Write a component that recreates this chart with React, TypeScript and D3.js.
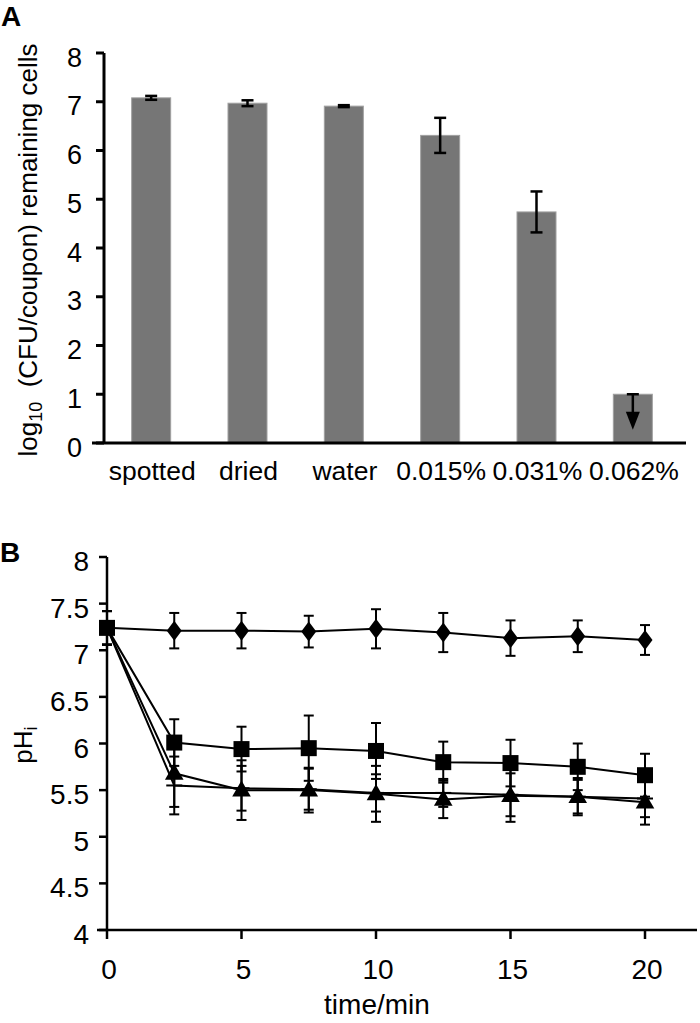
import React from 'react';
import * as d3 from 'd3';

// ---------- Panel A data ----------
const categories = ['spotted', 'dried', 'water', '0.015%', '0.031%', '0.062%'];
const barValues = [7.08, 6.97, 6.91, 6.31, 4.74, 1.0];
const barErrors = [0.04, 0.06, 0.02, 0.36, 0.42, 0];
const arrowTip = 0.27; // below-detection arrow for last bar
const yTicksA = [0, 1, 2, 3, 4, 5, 6, 7, 8];

// ---------- Panel B data ----------
const times = [0, 2.5, 5, 7.5, 10, 12.5, 15, 17.5, 20];
const diamondVals = [7.24, 7.21, 7.21, 7.2, 7.23, 7.19, 7.13, 7.15, 7.11];
const diamondErr = [0.18, 0.19, 0.19, 0.17, 0.21, 0.21, 0.19, 0.17, 0.16];
const squareVals = [7.24, 6.01, 5.94, 5.95, 5.92, 5.8, 5.79, 5.75, 5.66];
const squareErr = [0.18, 0.25, 0.24, 0.35, 0.3, 0.22, 0.25, 0.25, 0.23];
const triangleVals = [7.24, 5.68, 5.5, 5.5, 5.46, 5.4, 5.44, 5.43, 5.37];
const triangleErr = [0.18, 0.36, 0.32, 0.24, 0.3, 0.2, 0.28, 0.2, 0.24];
const dashVals = [7.24, 5.55, 5.52, 5.51, 5.47, 5.47, 5.45, 5.43, 5.41];
const dashErr = [0.18, 0.31, 0.24, 0.22, 0.2, 0.15, 0.23, 0.18, 0.2];
const yTicksB = [4, 4.5, 5, 5.5, 6, 6.5, 7, 7.5, 8];
const xTicksB = [0, 5, 10, 15, 20];

const FONT = '"Liberation Sans", Arial, Helvetica, sans-serif';
const BAR = '#767676';

export default function App() {
  // scales A
  const xA = d3.scalePoint<string>().domain(categories).range([103, 681]).padding(0.5);
  const yA = d3.scaleLinear().domain([0, 8]).range([443, 53]);
  const barW = 39;

  // scales B
  const xB = d3.scaleLinear().domain([0, 20]).range([107, 645]);
  const yB = d3.scaleLinear().domain([4, 8]).range([930, 557]);
  const line = d3
    .line<number>()
    .x((_, i) => xB(times[i]))
    .y((d) => yB(d));

  const series = [
    { vals: dashVals, err: dashErr, marker: 'dash' },
    { vals: triangleVals, err: triangleErr, marker: 'triangle' },
    { vals: squareVals, err: squareErr, marker: 'square' },
    { vals: diamondVals, err: diamondErr, marker: 'diamond' },
  ];

  const tri = d3.symbol().type(d3.symbolTriangle).size(150)();

  const marker = (kind: string, cx: number, cy: number, key: string) => {
    if (kind === 'square')
      return <rect key={key} x={cx - 8} y={cy - 8} width={16} height={16} fill="#000" />;
    if (kind === 'diamond')
      return (
        <path
          key={key}
          d={`M${cx},${cy - 10}L${cx + 7.5},${cy}L${cx},${cy + 10}L${cx - 7.5},${cy}Z`}
          fill="#000"
        />
      );
    if (kind === 'triangle')
      return <path key={key} d={tri as string} transform={`translate(${cx},${cy + 1})`} fill="#000" />;
    return <line key={key} x1={cx - 8} x2={cx + 8} y1={cy} y2={cy} stroke="#000" strokeWidth={2} />;
  };

  return (
    <svg width={700} height={1023} style={{ display: 'block', position: 'absolute', left: 0, top: 0 }}>
      <rect width={700} height={1023} fill="#fff" />
      {/* ================= Panel A ================= */}
      <text x={1} y={26} fontFamily={FONT} fontWeight="bold" fontSize={28}>
        A
      </text>
      {/* bars */}
      {categories.map((c, i) => (
        <rect
          key={c}
          x={(xA(c) as number) - barW / 2}
          y={yA(barValues[i])}
          width={barW}
          height={yA(0) - yA(barValues[i])}
          fill={BAR}
          stroke="#a0a0a0"
          strokeWidth={1}
        />
      ))}
      {/* error bars */}
      {categories.map((c, i) => {
        if (barErrors[i] === 0) return null;
        const cx = xA(c) as number;
        const t = yA(barValues[i] + barErrors[i]);
        const b = yA(barValues[i] - barErrors[i]);
        return (
          <g key={'e' + c} stroke="#000" strokeWidth={2.5}>
            <line x1={cx} x2={cx} y1={t} y2={b} />
            <line x1={cx - 6} x2={cx + 6} y1={t} y2={t} />
            <line x1={cx - 6} x2={cx + 6} y1={b} y2={b} />
          </g>
        );
      })}
      {/* arrow on last bar */}
      {(() => {
        const c = categories[categories.length - 1];
        const cx = xA(c) as number;
        const top = yA(barValues[barValues.length - 1]);
        const tip = yA(arrowTip);
        return (
          <g>
            <line x1={cx - 6} x2={cx + 6} y1={top} y2={top} stroke="#000" strokeWidth={2.5} />
            <line x1={cx} x2={cx} y1={top} y2={tip - 12} stroke="#000" strokeWidth={2.5} />
            <path d={`M${cx - 7},${tip - 18}L${cx + 7},${tip - 18}L${cx},${tip}Z`} fill="#000" />
          </g>
        );
      })()}
      {/* axes A */}
      <line x1={104} x2={104} y1={yA(8)} y2={yA(0)} stroke="#000" strokeWidth={3} />
      <line x1={92} x2={686} y1={yA(0)} y2={yA(0)} stroke="#000" strokeWidth={3} />
      {yTicksA.map((t) => (
        <g key={'ta' + t}>
          <line x1={96} x2={104} y1={yA(t)} y2={yA(t)} stroke="#000" strokeWidth={3} />
          <text
            x={82}
            y={yA(t) + 4}
            dy="0.36em"
            textAnchor="end"
            fontFamily={FONT}
            fontSize={27}
          >
            {t}
          </text>
        </g>
      ))}
      {categories.map((c) => (
        <text
          key={'l' + c}
          x={(xA(c) as number) + 1}
          y={480}
          textAnchor="middle"
          fontFamily={FONT}
          fontSize={26.5}
        >
          {c}
        </text>
      ))}
      <text
        transform={`translate(37,250) rotate(-90)`}
        textAnchor="middle"
        fontFamily={FONT}
        fontSize={26}
      >
        log
        <tspan fontSize={18} dy={5}>
          10
        </tspan>
        <tspan dy={-5}>{'\u00a0\u00a0(CFU/coupon) remaining cells'}</tspan>
      </text>

      {/* ================= Panel B ================= */}
      <text x={0} y={562} fontFamily={FONT} fontWeight="bold" fontSize={28}>
        B
      </text>
      {/* lines */}
      {series.map((s, k) => (
        <path key={'ln' + k} d={line(s.vals) as string} fill="none" stroke="#000" strokeWidth={2} />
      ))}
      {/* error bars */}
      {series.map((s, k) =>
        s.vals.map((v, i) => {
          const cx = xB(times[i]);
          const t = yB(v + s.err[i]);
          const b = yB(v - s.err[i]);
          return (
            <g key={`eb${k}-${i}`} stroke="#000" strokeWidth={2}>
              <line x1={cx} x2={cx} y1={t} y2={b} />
              <line x1={cx - 5} x2={cx + 5} y1={t} y2={t} />
              <line x1={cx - 5} x2={cx + 5} y1={b} y2={b} />
            </g>
          );
        })
      )}
      {/* markers */}
      {series.map((s, k) =>
        s.vals.map((v, i) => {
          if (i === 0 && s.marker !== 'square') return null;
          return marker(s.marker, xB(times[i]), yB(v), `m${k}-${i}`);
        })
      )}
      {/* axes B */}
      <line x1={107} x2={107} y1={yB(8)} y2={yB(4)} stroke="#000" strokeWidth={2.5} />
      <line x1={97} x2={697} y1={yB(4)} y2={yB(4)} stroke="#000" strokeWidth={2.5} />
      {yTicksB.map((t) => (
        <g key={'tb' + t}>
          <line x1={99} x2={107} y1={yB(t)} y2={yB(t)} stroke="#000" strokeWidth={2.5} />
          <text x={89} y={yB(t) + 4} dy="0.36em" textAnchor="end" fontFamily={FONT} fontSize={28}>
            {t}
          </text>
        </g>
      ))}
      {xTicksB.map((t) => (
        <g key={'xb' + t}>
          <line x1={xB(t)} x2={xB(t)} y1={yB(4)} y2={yB(4) + 9} stroke="#000" strokeWidth={2.5} />
          <text x={xB(t) + 2} y={979} textAnchor="middle" fontFamily={FONT} fontSize={28}>
            {t}
          </text>
        </g>
      ))}
      <text x={377} y={1014} textAnchor="middle" fontFamily={FONT} fontSize={28}>
        time/min
      </text>
      <text transform={`translate(32,745) rotate(-90)`} textAnchor="middle" fontFamily={FONT} fontSize={26}>
        pH
        <tspan fontSize={18} dy={5}>
          i
        </tspan>
      </text>
    </svg>
  );
}
